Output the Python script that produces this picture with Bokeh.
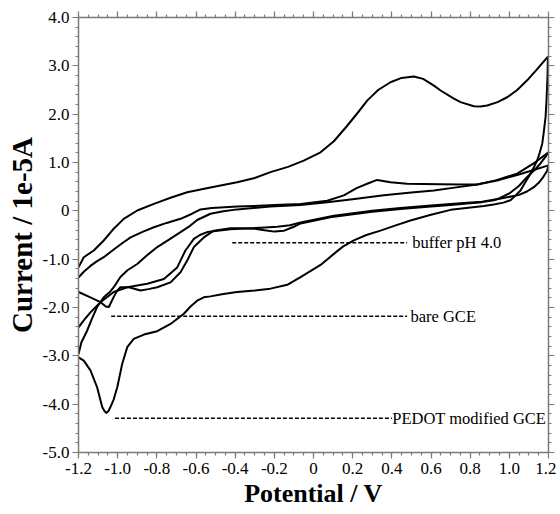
from bokeh.plotting import figure
from bokeh.models import FixedTicker, CustomJSTickFormatter, LinearAxis, Range1d, ColumnDataSource
from bokeh.embed import file_html
from bokeh.resources import INLINE
from bokeh.core.properties import value

# ---------------- data ----------------
x_ticks = [-1.2, -1.0, -0.8, -0.6, -0.4, -0.2, 0.0, 0.2, 0.4, 0.6, 0.8, 1.0, 1.2]
x_tick_labels = ["-1.2", "-1.0", "-0.8", "-0.6", "-0.4", "-0.2", "0", "0.2", "0.4", "0.6", "0.8", "1.0", "1.2"]
y_ticks = [-5, -4, -3, -2, -1, 0, 1, 2, 3, 4]
y_tick_labels = ["-5.0", "-4.0", "-3.0", "-2.0", "-1.0", "0", "1.0", "2.0", "3.0", "4.0"]

# PEDOT modified GCE: anodic (upper) sweep
pedot_up_v = [-1.2, -1.173, -1.122, -1.071, -1.02, -0.969, -0.9, -0.815, -0.73, -0.645, -0.52, -0.39,
              -0.30, -0.22, -0.13, -0.05, 0.036, 0.104, 0.17, 0.23, 0.274, 0.33, 0.393, 0.45, 0.512,
              0.56, 0.615, 0.649, 0.717, 0.751, 0.819, 0.853, 0.887, 0.94, 0.989, 1.04, 1.091, 1.14, 1.197]
pedot_up_i = [-1.17, -0.96, -0.82, -0.614, -0.37, -0.166, 0.007, 0.145, 0.27, 0.385, 0.49, 0.59,
              0.68, 0.80, 0.91, 1.04, 1.21, 1.44, 1.75, 2.05, 2.28, 2.50, 2.66, 2.75, 2.78,
              2.73, 2.59, 2.49, 2.32, 2.25, 2.165, 2.16, 2.18, 2.25, 2.35, 2.50, 2.70, 2.92, 3.19]
# PEDOT modified GCE: cathodic (lower) sweep
pedot_dn_v = [1.197, 1.195, 1.19, 1.185, 1.175, 1.168, 1.155, 1.142, 1.125, 1.108, 1.08, 1.057, 1.03,
              1.006, 0.97, 0.92, 0.87, 0.78, 0.70, 0.60, 0.495, 0.42, 0.342, 0.27, 0.206, 0.15, 0.104,
              0.036, -0.066, -0.134, -0.22, -0.30, -0.39, -0.46, -0.526, -0.56, -0.594, -0.628, -0.662,
              -0.73, -0.798, -0.866, -0.918, -0.951, -0.977, -1.002, -1.02, -1.037, -1.047, -1.057,
              -1.066, -1.079, -1.105, -1.139, -1.173, -1.2]
pedot_dn_i = [3.19, 2.8, 2.3, 1.94, 1.6, 1.39, 1.2, 1.04, 0.9, 0.77, 0.58, 0.42, 0.31,
              0.22, 0.17, 0.13, 0.10, 0.06, 0.02, -0.08, -0.20, -0.30, -0.41, -0.50, -0.61, -0.74, -0.89,
              -1.12, -1.37, -1.53, -1.61, -1.65, -1.68, -1.72, -1.77, -1.79, -1.86, -1.98, -2.13,
              -2.34, -2.49, -2.56, -2.65, -2.82, -3.17, -3.65, -3.90, -4.06, -4.14, -4.18,
              -4.15, -4.06, -3.65, -3.30, -3.10, -3.03]

# bare GCE: anodic sweep
bare_up_v = [-1.2, -1.173, -1.139, -1.105, -1.071, -1.02, -0.97, -0.934, -0.87, -0.815, -0.75, -0.679,
             -0.62, -0.577, -0.52, -0.475, -0.39, -0.305, -0.2, -0.066, 0.07, 0.155, 0.22, 0.274,
             0.325, 0.393, 0.478, 0.56, 0.649, 0.75, 0.836, 0.93, 1.04, 1.12, 1.2]
bare_up_i = [-1.38, -1.26, -1.14, -1.04, -0.96, -0.80, -0.65, -0.55, -0.43, -0.34, -0.25, -0.165,
             -0.06, 0.03, 0.06, 0.07, 0.09, 0.10, 0.12, 0.14, 0.21, 0.32, 0.47, 0.56,
             0.64, 0.59, 0.56, 0.555, 0.55, 0.545, 0.545, 0.63, 0.77, 0.97, 1.21]
# bare GCE: cathodic sweep
bare_dn_v = [1.2, 1.185, 1.159, 1.13, 1.091, 1.05, 1.0, 0.95, 0.921, 0.86, 0.785, 0.70, 0.60, 0.444,
             0.30, 0.104, -0.066, -0.10, -0.15, -0.2, -0.25, -0.30, -0.373, -0.424, -0.509, -0.56,
             -0.611, -0.645, -0.679, -0.73, -0.798, -0.843, -0.883, -0.943, -0.986, -1.002, -1.02,
             -1.045, -1.06, -1.088, -1.139, -1.2]
bare_dn_i = [1.21, 1.12, 0.98, 0.85, 0.70, 0.52, 0.36, 0.26, 0.22, 0.18, 0.15, 0.12, 0.09, 0.04,
             -0.02, -0.12, -0.26, -0.33, -0.41, -0.43, -0.40, -0.37, -0.36, -0.36, -0.41, -0.55,
             -0.75, -1.03, -1.27, -1.48, -1.58, -1.62, -1.65, -1.58, -1.58, -1.65, -1.78,
             -1.99, -1.98, -1.89, -1.79, -1.68]

# buffer pH 4.0: anodic sweep
buf_up_v = [-1.2, -1.185, -1.156, -1.13, -1.105, -1.071, -1.04, -1.02, -0.986, -0.95, -0.9, -0.85,
            -0.798, -0.74, -0.679, -0.63, -0.594, -0.526, -0.46, -0.39, -0.22, -0.066, 0.07, 0.2,
            0.359, 0.5, 0.615, 0.72, 0.836, 0.95, 1.04, 1.12, 1.2]
buf_up_i = [-2.96, -2.72, -2.48, -2.22, -1.99, -1.79, -1.68, -1.58, -1.37, -1.23, -1.10, -0.92,
            -0.75, -0.60, -0.44, -0.31, -0.19, -0.06, -0.01, 0.03, 0.09, 0.12, 0.18, 0.24,
            0.32, 0.38, 0.42, 0.48, 0.545, 0.64, 0.74, 0.84, 0.94]
# buffer pH 4.0: cathodic sweep
buf_dn_v = [1.2, 1.193, 1.17, 1.15, 1.125, 1.09, 1.05, 0.989, 0.95, 0.92, 0.86, 0.785, 0.70, 0.60,
            0.444, 0.30, 0.104, -0.066, -0.12, -0.185, -0.27, -0.373, -0.424, -0.543, -0.58, -0.611,
            -0.654, -0.696, -0.764, -0.849, -0.951, -1.02, -1.088, -1.139, -1.17, -1.2]
buf_dn_i = [0.94, 0.83, 0.68, 0.58, 0.49, 0.40, 0.33, 0.28, 0.25, 0.23, 0.19, 0.165, 0.14, 0.11,
            0.06, 0.0, -0.10, -0.24, -0.30, -0.33, -0.35, -0.37, -0.38, -0.44, -0.50, -0.58,
            -0.82, -1.17, -1.41, -1.51, -1.58, -1.68, -1.89, -2.10, -2.25, -2.41]

# curve labels with their dashed leader lines
label_text = ["buffer pH 4.0", "bare GCE", "PEDOT modified GCE"]
label_x = [0.504, 0.495, 0.402]
label_y = [-0.66, -2.18, -4.29]
leader_x0 = [-0.415, -1.033, -1.014]
leader_x1 = [0.478, 0.478, 0.40]

# ---------------- figure ----------------
p = figure(width=556, height=514, x_range=Range1d(-1.2, 1.2), y_range=Range1d(-5, 4),
           output_backend="svg", toolbar_location=None,
           min_border_left=78, min_border_right=8, min_border_top=17, min_border_bottom=62)
p.grid.visible = False
p.outline_line_color = None
p.background_fill_color = "white"
p.border_fill_color = "white"

x_minor = [x_ticks[0] + 0.05 * k for k in range(49)]
y_minor = [y_ticks[0] + 0.2 * k for k in range(46)]

FMT_CODE = """
let best = 0, d = 1e9;
for (let i = 0; i < tv.length; i++) { const e = Math.abs(tv[i] - tick); if (e < d) { d = e; best = i; } }
return tl[best];
"""
x_fmt = CustomJSTickFormatter(args=dict(tv=x_ticks, tl=x_tick_labels), code=FMT_CODE)
y_fmt = CustomJSTickFormatter(args=dict(tv=y_ticks, tl=y_tick_labels), code=FMT_CODE)

axis_color = "#7a7a7a"

def style(ax, labels=True):
    ax.axis_line_color = axis_color
    ax.axis_line_width = 1.5
    ax.major_tick_line_color = axis_color
    ax.minor_tick_line_color = axis_color
    ax.major_tick_line_width = 1.2
    ax.minor_tick_line_width = 1.2
    ax.major_tick_in = 0
    ax.major_tick_out = 6
    ax.minor_tick_in = 0
    ax.minor_tick_out = 3
    if labels:
        ax.major_label_text_font = "Liberation Sans Narrow"
        ax.major_label_text_font_size = "17px"
        ax.major_label_text_color = "black"
    else:
        ax.major_label_text_color = None
        ax.major_label_standoff = 0

xb = p.xaxis[0]
xb.ticker = FixedTicker(ticks=x_ticks, minor_ticks=x_minor)
xb.formatter = x_fmt
style(xb)
xb.major_label_standoff = 4
xb.axis_label = "Potential / V"
xb.axis_label_text_font = "Liberation Serif"
xb.axis_label_text_font_style = "bold"
xb.axis_label_text_font_size = "26px"
xb.axis_label_text_color = "black"
xb.axis_label_standoff = 2

yl = p.yaxis[0]
yl.ticker = FixedTicker(ticks=y_ticks, minor_ticks=y_minor)
yl.formatter = y_fmt
style(yl)
yl.major_label_standoff = 3
yl.axis_label = "Current / 1e-5A"
yl.axis_label_text_font = "Liberation Serif"
yl.axis_label_text_font_style = "bold"
yl.axis_label_text_font_size = "29px"
yl.axis_label_text_color = "black"
yl.axis_label_standoff = 2

xt = LinearAxis(ticker=FixedTicker(ticks=x_ticks, minor_ticks=x_minor))
style(xt, labels=False)
p.add_layout(xt, "above")
yr = LinearAxis(ticker=FixedTicker(ticks=y_ticks, minor_ticks=y_minor))
style(yr, labels=False)
p.add_layout(yr, "right")

curves_v = [pedot_up_v, pedot_dn_v, bare_up_v, bare_dn_v, buf_up_v, buf_dn_v]
curves_i = [pedot_up_i, pedot_dn_i, bare_up_i, bare_dn_i, buf_up_i, buf_dn_i]
p.multi_line(xs=curves_v, ys=curves_i, line_color="black", line_width=2, line_join="round")

p.segment(x0=leader_x0, y0=label_y, x1=leader_x1, y1=label_y, line_color="black",
          line_width=1.5, line_dash="4 2")
src = ColumnDataSource(dict(x=label_x, y=label_y, t=label_text))
p.text(x="x", y="y", text="t", source=src, text_font=value("Liberation Serif"),
       text_font_size="16.5px", text_baseline="middle", text_align="left", text_color="black")

open("out.html", "w").write(file_html(p, INLINE))
